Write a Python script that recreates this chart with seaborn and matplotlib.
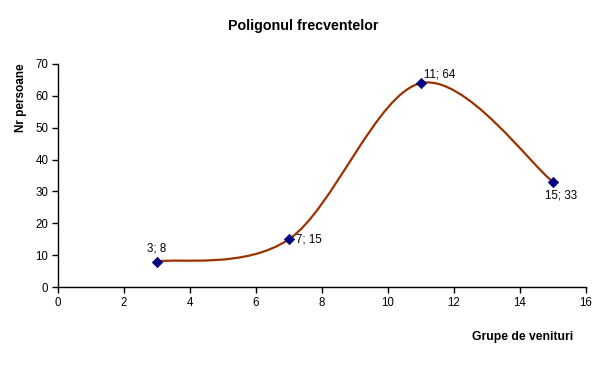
"""
Poligonul frecventelor - grafic cu linie netezita (stil Excel)
"""
import numpy as np
import pandas as pd
import matplotlib
matplotlib.use('Agg')
import matplotlib.pyplot as plt
from matplotlib.path import Path
from matplotlib.patches import PathPatch
import seaborn as sns

# Date
grupe = [3, 7, 11, 15]
persoane = [8, 15, 64, 33]
etichete = ['3; 8', '7; 15', '11; 64', '15; 33']

LINE_COLOR = '#993300'
MARKER_COLOR = '#000080'


def smooth_path(xs, ys):
    """Curba Bezier prin puncte (netezire ca in Excel)"""
    pts = np.column_stack([xs, ys]).astype(float)
    n = len(pts)
    verts = [pts[0]]
    codes = [Path.MOVETO]
    for i in range(n - 1):
        p_prev = pts[i - 1] if i > 0 else pts[i]
        p_next = pts[i + 2] if i + 2 < n else pts[i + 1]
        c1 = pts[i] + (pts[i + 1] - p_prev) / 6
        c2 = pts[i + 1] - (p_next - pts[i]) / 6
        verts += [c1, c2, pts[i + 1]]
        codes += [Path.CURVE4] * 3
    return Path(verts, codes)


sns.set_style('white')
plt.rcParams['font.family'] = ['Liberation Sans', 'DejaVu Sans']
plt.rcParams['text.color'] = 'black'

df = pd.DataFrame({'x': grupe, 'y': persoane})

fig = plt.figure(figsize=(6.08, 3.74), dpi=100)
ax = fig.add_axes([0.0954, 0.2326, 0.8684, 0.5963])

ax.add_patch(PathPatch(smooth_path(grupe, persoane), facecolor='none',
                       edgecolor=LINE_COLOR, linewidth=1.6, zorder=2))
sns.scatterplot(data=df, x='x', y='y', marker='D', s=28, color=MARKER_COLOR,
                edgecolor=MARKER_COLOR, linewidth=0.5, zorder=3, ax=ax)

# etichete de date
offsets = [((0, 9.5), 'center'), ((5, 0), 'left'), ((2, 6), 'left'), ((6, -9.5), 'center')]
for x, y, txt, (off, ha) in zip(grupe, persoane, etichete, offsets):
    ax.annotate(txt, (x, y), xytext=off, textcoords='offset points',
                ha=ha, va='center', fontsize=8.3, color='black')

ax.set_xlim(0, 16)
ax.set_ylim(0, 70)
ax.set_xticks(range(0, 17, 2))
ax.set_yticks(range(0, 71, 10))
ax.set_xlabel('')
ax.set_ylabel('')
ax.tick_params(axis='both', labelsize=8.3, length=4, width=1, direction='out',
               colors='black', labelcolor='black', pad=3, bottom=True, left=True)
for side in ['top', 'right']:
    ax.spines[side].set_visible(False)
for side in ['left', 'bottom']:
    ax.spines[side].set_color('black')
    ax.spines[side].set_linewidth(1)

fig.text(0.498, 0.930, 'Poligonul frecventelor', ha='center', va='center',
         fontsize=10.3, fontweight='bold', color='black')
fig.text(0.0345, 0.738, 'Nr persoane', ha='center', va='center', rotation=90,
         fontsize=8.5, fontweight='bold', color='black')
fig.text(0.860, 0.099, 'Grupe de venituri', ha='center', va='center',
         fontsize=8.7, fontweight='bold', color='black')

plt.savefig('out.png', dpi=100)
plt.close()
